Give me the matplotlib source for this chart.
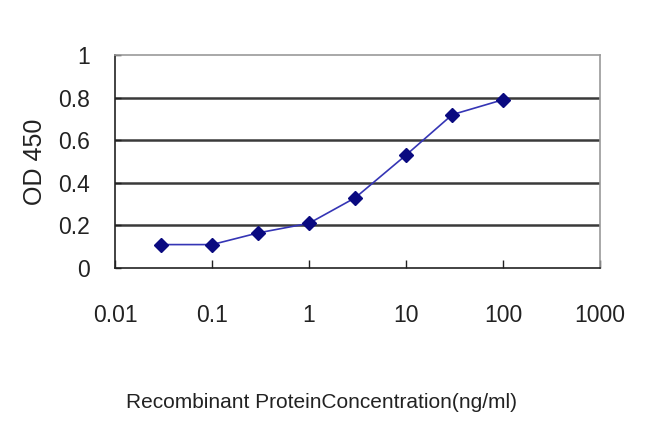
import matplotlib
matplotlib.use('Agg')
import matplotlib.pyplot as plt

# Data
concentration = [0.03, 0.1, 0.3, 1, 3, 10, 30, 100]
od450 = [0.11, 0.11, 0.165, 0.21, 0.33, 0.53, 0.72, 0.79]
x_ticks = [0.01, 0.1, 1, 10, 100, 1000]
x_tick_labels = ['0.01', '0.1', '1', '10', '100', '1000']
y_ticks = [0, 0.2, 0.4, 0.6, 0.8, 1]
y_tick_labels = ['0', '0.2', '0.4', '0.6', '0.8', '1']

plt.rcParams['font.family'] = ['Liberation Sans', 'DejaVu Sans']

fig = plt.figure(figsize=(6.5, 4.33), dpi=100)
ax = fig.add_axes([0.177, 0.381, 0.746, 0.492])

# horizontal grid lines
for y in y_ticks[1:-1]:
    ax.axhline(y, color='#3a3a3a', linewidth=1.8, zorder=1)

ax.plot(concentration, od450, color='#3535b5', linewidth=1.2, zorder=2)
ax.plot(concentration, od450, linestyle='none', marker='D', markersize=7,
        color='#0a0a80', zorder=3)

ax.set_xscale('log')
ax.set_xlim(0.01, 1000)
ax.set_ylim(0, 1)
ax.set_xticks(x_ticks)
ax.set_xticklabels(x_tick_labels)
ax.minorticks_off()
ax.set_yticks(y_ticks)
ax.set_yticklabels(y_tick_labels)

ax.tick_params(axis='x', direction='in', length=6, width=1, pad=26,
               labelsize=16.5, colors='#222222')
ax.tick_params(axis='y', direction='in', length=4, width=1, pad=18,
               labelsize=16.5, colors='#222222')

for side in ['top', 'right']:
    ax.spines[side].set_color('#9a9a9a')
    ax.spines[side].set_linewidth(1.2)
for side in ['left', 'bottom']:
    ax.spines[side].set_color('#222222')
    ax.spines[side].set_linewidth(1.2)

ax.set_xlabel('Recombinant ProteinConcentration(ng/ml)', fontsize=15,
              color='#222222')
ax.xaxis.set_label_coords(0.425, -0.585)
ax.set_ylabel('OD 450', fontsize=18, color='#222222', labelpad=8)

fig.savefig('out.png', dpi=100)
